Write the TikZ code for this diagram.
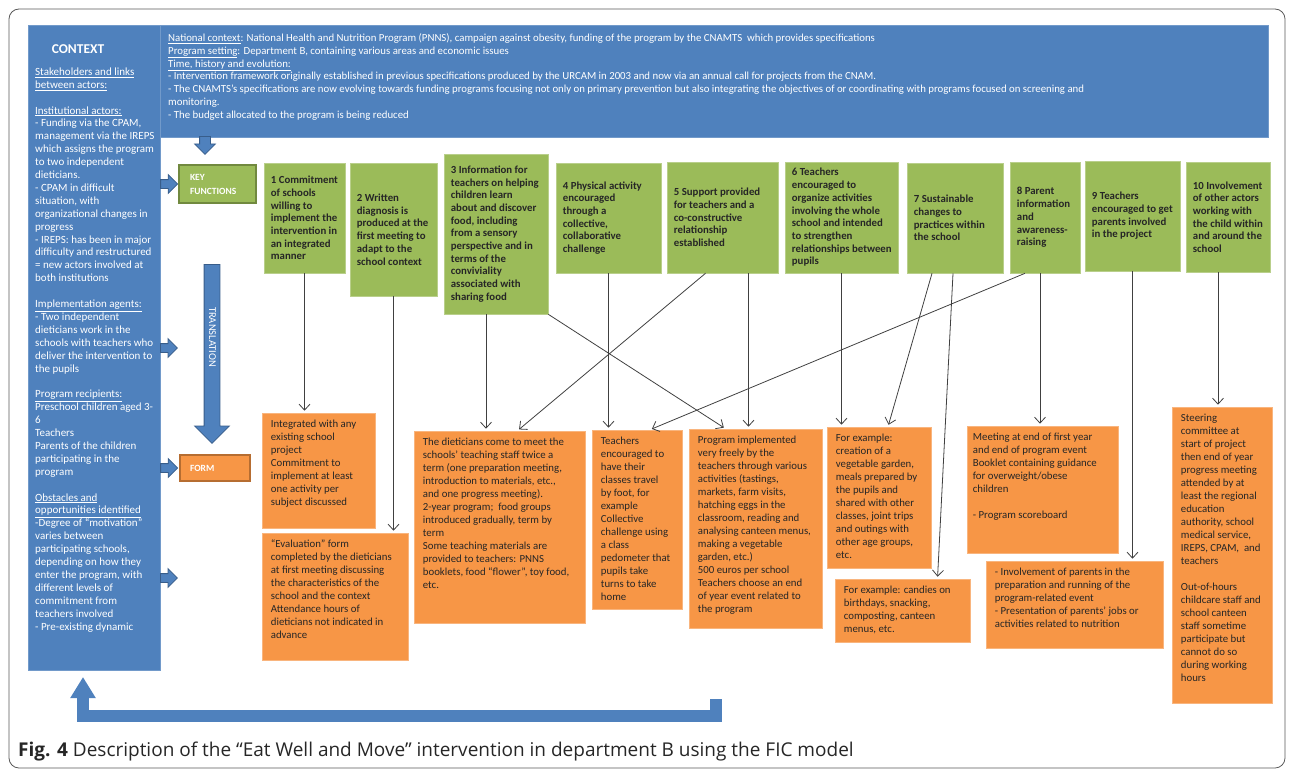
\documentclass[tikz,border=0pt]{standalone}
\usepackage{fontspec}
\setmainfont{Carlito}
\newfontfamily\capfont{Open Sans}
\usetikzlibrary{arrows.meta,positioning,shapes.arrows,calc}
\definecolor{Ctx}{RGB}{79,129,189}
\definecolor{CtxEdge}{RGB}{56,93,138}
\definecolor{Fn}{RGB}{155,187,89}
\definecolor{FnEdge}{RGB}{113,137,63}
\definecolor{Frm}{RGB}{247,150,70}
\definecolor{FrmEdge}{RGB}{182,109,49}
\definecolor{Ink}{RGB}{38,38,38}
\definecolor{Wire}{RGB}{64,64,64}

\begin{document}
\begin{tikzpicture}[x=1pt, y=-1pt,
    fnbox/.style={draw=Fn!70!white, line width=0.6pt, fill=Fn, inner sep=0pt},
    fntext/.style={anchor=west, align=left, inner xsep=7pt, inner ysep=0pt, text=Ink, font=\fontsize{10.8}{12.7}\selectfont\bfseries},
    formbox/.style={draw=Frm!70!white, line width=0.6pt, fill=Frm, inner sep=0pt},
    formtext/.style={anchor=north west, align=left, inner xsep=9pt, inner ysep=7pt, text=Ink, font=\fontsize{10.8}{13}\selectfont},
    ctxtext/.style={anchor=north west, align=left, inner sep=0pt, text=white, font=\fontsize{11}{12.9}\selectfont},
    link/.style={draw=Wire, line width=0.8pt, -{Straight Barb[length=6pt,width=11pt]}, shorten >=2pt},
    blockarrow/.style={single arrow, fill=Ctx, draw=CtxEdge, line width=0.8pt, inner xsep=0pt, anchor=tail}]
  \useasboundingbox (0,0) rectangle (1292,773);
  \draw[rounded corners=10pt, draw=black!65, line width=0.8pt] (9,9) rectangle (1285,768);

  % context column and banner
  \node[fill=Ctx, draw=Ctx!80!white, inner sep=0pt, minimum width=132pt, minimum height=645pt] (ctx) at (94,347.5) {};
  \node[fill=Ctx, draw=Ctx!80!white, inner sep=0pt, minimum width=1108pt, minimum height=112pt] (banner) at (714,81) {};
  \node[text=white, font=\fontsize{13.5}{15}\selectfont\bfseries] (ctxtitle) at (78,49) {CONTEXT};
  \node[ctxtext] (ctxt) at (35,67.5) {\underline{Stakeholders and links}\\
    \underline{between actors:}\\[12.9pt]
    \underline{Institutional actors:}\\
    - Funding via the CPAM,\\
    management via the IREPS\\
    which assigns the program\\
    to two independent\\
    dieticians.\\
    - CPAM in difficult\\
    situation, with\\
    organizational changes in\\
    progress\\
    - IREPS: has been in major\\
    difficulty and restructured\\
    = new actors involved at\\
    both institutions\\[12.9pt]
    \underline{Implementation agents:}\\
    - Two independent\\
    dieticians work in the\\
    schools with teachers who\\
    deliver the intervention to\\
    the pupils\\[12.9pt]
    \underline{Program recipients:}\\
    Preschool children aged 3-\\
    6\\
    Teachers\\
    Parents of the children\\
    participating in the\\
    program\\[12.9pt]
    \underline{Obstacles and}\\
    \underline{opportunities identified}\\
    -Degree of “motivation”\\
    varies between\\
    participating schools,\\
    depending on how they\\
    enter the program, with\\
    different levels of\\
    commitment from\\
    teachers involved\\
    - Pre-existing dynamic};
  \node[ctxtext, font=\fontsize{10.8}{12.8}\selectfont] (bannert) at (168,33.5) {\underline{National context}: National Health and Nutrition Program (PNNS), campaign against obesity, funding of the program by the CNAMTS\ \ which provides specifications\\
    \underline{Program setting}: Department B, containing various areas and economic issues\\
    \underline{Time, history and evolution:}\\
    - Intervention framework originally established in previous specifications produced by the URCAM in 2003 and now via an annual call for projects from the CNAM.\\
    - The CNAMTS’s specifications are now evolving towards funding programs focusing not only on primary prevention but also integrating the objectives of or coordinating with programs focused on screening and\\
    monitoring.\\
    - The budget allocated to the program is being reduced};

  % key functions and form
  \node[fill=Fn, draw=FnEdge, line width=2.5pt, minimum width=77pt, minimum height=38pt, inner sep=0pt, text width=55pt, align=left, text=white, font=\fontsize{9.5}{14}\selectfont\bfseries] (kf) at (217.5,184) {KEY\\FUNCTIONS};
  \node[fill=Frm, draw=FrmEdge, line width=2pt, minimum width=70pt, minimum height=26pt, inner sep=0pt, text width=50pt, align=left, text=white, font=\fontsize{9.5}{12}\selectfont\bfseries] (form) at (215,468) {FORM};
  \node[blockarrow, rotate=-90, minimum height=18pt, inner ysep=5pt, single arrow head extend=5pt] (downarr) at (205,136) {};
  \node[blockarrow, minimum height=17pt, inner ysep=4pt, single arrow head extend=5pt] (arrkf) at (ctx.east |- kf.west) {};
  \node[blockarrow, minimum height=17pt, inner ysep=4pt, single arrow head extend=5pt] (arragents) at (160,348) {};
  \node[blockarrow, minimum height=17pt, inner ysep=4pt, single arrow head extend=5pt] (arrform) at (ctx.east |- form.west) {};
  \node[blockarrow, minimum height=17pt, inner ysep=4pt, single arrow head extend=5pt] (arrobst) at (160,578) {};
  \node[blockarrow, rotate=-90, minimum height=179pt, inner ysep=7.5pt, single arrow head extend=9.5pt] (trans) at (212,264) {};
  \node[rotate=-90, text=white, font=\fontsize{10.5}{12}\selectfont] (translabel) at (212.5,337) {TRANSLATION};

  % key function boxes
  \node[fnbox, minimum width=81pt, minimum height=110pt] (g1) at (304.5,218) {};
  \node[fnbox, minimum width=87pt, minimum height=133pt] (g2) at (393.5,229.5) {};
  \node[fnbox, minimum width=104pt, minimum height=160pt] (g3) at (496,234) {};
  \node[fnbox, minimum width=105pt, minimum height=110pt] (g4) at (608.5,218) {};
  \node[fnbox, minimum width=111pt, minimum height=111pt] (g5) at (722.5,217.5) {};
  \node[fnbox, minimum width=113pt, minimum height=111pt] (g6) at (841.5,217.5) {};
  \node[fnbox, minimum width=96pt, minimum height=110pt] (g7) at (955,218) {};
  \node[fnbox, minimum width=70pt, minimum height=111pt] (g8) at (1045,217.5) {};
  \node[fnbox, minimum width=95pt, minimum height=110pt] (g9) at (1132.5,216) {};
  \node[fnbox, minimum width=84pt, minimum height=110pt] (g10) at (1228,217) {};
  \node[fntext] (g1t) at (g1.west) {1 Commitment\\of schools\\willing to\\implement the\\intervention in\\an integrated\\manner};
  \node[fntext] (g2t) at (g2.west) {2 Written\\diagnosis is\\produced at the\\first meeting to\\adapt to the\\school context};
  \node[fntext] (g3t) at (g3.west) {3 Information for\\teachers on helping\\children learn\\about and discover\\food, including\\from a sensory\\perspective and in\\terms of the\\conviviality\\associated with\\sharing food};
  \node[fntext] (g4t) at (g4.west) {4 Physical activity\\encouraged\\through a\\collective,\\collaborative\\challenge};
  \node[fntext] (g5t) at (g5.west) {5 Support provided\\for teachers and a\\co-constructive\\relationship\\established};
  \node[fntext] (g6t) at (g6.west) {6 Teachers\\encouraged to\\organize activities\\involving the whole\\school and intended\\to strengthen\\relationships between\\pupils};
  \node[fntext] (g7t) at (g7.west) {7 Sustainable\\changes to\\practices within\\the school};
  \node[fntext] (g8t) at (g8.west) {8 Parent\\information\\and\\awareness-\\raising};
  \node[fntext] (g9t) at (g9.west) {9 Teachers\\encouraged to get\\parents involved\\in the project};
  \node[fntext] (g10t) at (g10.west) {10 Involvement\\of other actors\\working with\\the child within\\and around the\\school};

  % form boxes
  \node[formbox, minimum width=113pt, minimum height=115pt] (o1) at (318.5,470.5) {};
  \node[formbox, minimum width=146pt, minimum height=127pt] (o2) at (335,596.5) {};
  \node[formbox, minimum width=171pt, minimum height=192pt] (o3) at (499.5,527) {};
  \node[formbox, minimum width=90pt, minimum height=179pt] (o4) at (637,519.5) {};
  \node[formbox, minimum width=133pt, minimum height=199pt] (o5) at (755.5,528.5) {};
  \node[formbox, minimum width=104pt, minimum height=141pt] (o6) at (879,497.5) {};
  \node[formbox, minimum width=135pt, minimum height=63pt] (o7) at (902.5,610.5) {};
  \node[formbox, minimum width=151pt, minimum height=127pt] (o8) at (1042.5,489.5) {};
  \node[formbox, minimum width=177pt, minimum height=87pt] (o9) at (1074.5,604.5) {};
  \node[formbox, minimum width=100pt, minimum height=296pt] (o10) at (1222,555) {};
  \node[formtext] (o1t) at (o1.north west) {Integrated with any\\existing school\\project\\Commitment to\\implement at least\\one activity per\\subject discussed};
  \node[formtext] (o2t) at (o2.north west) {“Evaluation” form\\completed by the dieticians\\at first meeting discussing\\the characteristics of the\\school and the context\\Attendance hours of\\dieticians not indicated in\\advance};
  \node[formtext] (o3t) at (o3.north west) {The dieticians come to meet the\\schools’ teaching staff twice a\\term (one preparation meeting,\\introduction to materials, etc.,\\and one progress meeting).\\2-year program;\ \ food groups\\introduced gradually, term by\\term\\Some teaching materials are\\provided to teachers: PNNS\\booklets, food “flower”, toy food,\\etc.};
  \node[formtext] (o4t) at (o4.north west) {Teachers\\encouraged to\\have their\\classes travel\\by foot, for\\example\\Collective\\challenge using\\a class\\pedometer that\\pupils take\\turns to take\\home};
  \node[formtext] (o5t) at (o5.north west) {Program implemented\\very freely by the\\teachers through various\\activities (tastings,\\markets, farm visits,\\hatching eggs in the\\classroom, reading and\\analysing canteen menus,\\making a vegetable\\garden, etc.)\\500 euros per school\\Teachers choose an end\\of year event related to\\the program};
  \node[formtext] (o6t) at (o6.north west) {For example:\\creation of a\\vegetable garden,\\meals prepared by\\the pupils and\\shared with other\\classes, joint trips\\and outings with\\other age groups,\\etc.};
  \node[formtext] (o7t) at (o7.north west) {For example: candies on\\birthdays, snacking,\\composting, canteen\\menus, etc.};
  \node[formtext, inner xsep=6pt] (o8t) at (o8.north west) {Meeting at end of first year\\and end of program event\\Booklet containing guidance\\for overweight/obese\\children\\[13pt]- Program scoreboard};
  \node[formtext] (o9t) at (o9.north west) {- Involvement of parents in the\\preparation and running of the\\program-related event\\- Presentation of parents’ jobs or\\activities related to nutrition};
  \node[formtext] (o10t) at (o10.north west) {Steering\\committee at\\start of project\\then end of year\\progress meeting\\attended by at\\least the regional\\education\\authority, school\\medical service,\\IREPS, CPAM,\ \ and\\teachers\\[13pt]Out-of-hours\\childcare staff and\\school canteen\\staff sometime\\participate but\\cannot do so\\during working\\hours};

  % links
  \draw[link] (g1.south) -- (g1.south |- o1.north);
  \draw[link] (g2.south) -- (g2.south |- o2.north);
  \draw[link] ([xshift=-10pt]g3.south) -- ([xshift=-10pt]g3.south |- o3.north);
  \draw[link] (g3.south east) -- ([xshift=-30pt]o5.north);
  \draw[link] (g4.south) -- (g4.south |- o4.north);
  \draw[link] ([xshift=-17pt]g5.south) -- ([xshift=18pt]o3.north);
  \draw[link] ([xshift=26pt]g5.south) -- ([xshift=26pt]g5.south |- o5.north);
  \draw[link] (g6.south) -- (g6.south |- o6.north);
  \draw[link] ([xshift=-23pt]g7.south) -- ([xshift=9pt]o6.north);
  \draw[link] ([xshift=-2pt]g7.south) -- ([xshift=35pt]o7.north);
  \draw[link] ([xshift=-20pt]g8.south) -- ([xshift=13pt]o4.north);
  \draw[link] ([xshift=-5pt]g8.south) -- ([xshift=-5pt]g8.south |- o8.north);
  \draw[link] (g9.south) -- (g9.south |- o9.north);
  \draw[link] ([xshift=-10pt]g10.south) -- ([xshift=-10pt]g10.south |- o10.north);

  % feedback arrow
  \coordinate (fbfrom) at (716,699);
  \coordinate (fbturn) at (83,716);
  \coordinate (fbto) at (83,677);
  \draw[Ctx, line width=12pt, line join=miter, -{Triangle[width=24pt,length=21pt]}] (fbfrom) |- (fbturn) -- (fbto);

  \node[anchor=west, inner sep=0pt, text=black!85, font=\capfont\fontsize{19}{22}\selectfont] (caption) at (18,752) {\textbf{Fig. 4} Description of the “Eat Well and Move” intervention in department B using the FIC model};
\end{tikzpicture}
\end{document}
